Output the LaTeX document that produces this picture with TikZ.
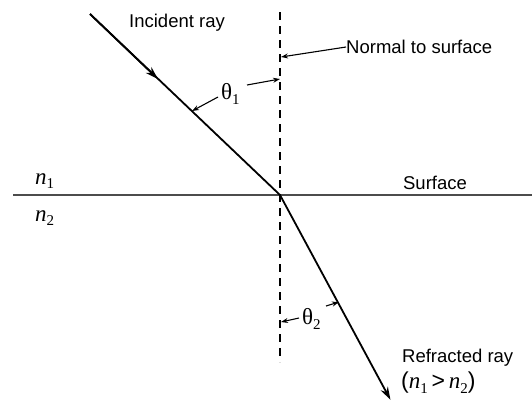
\documentclass[tikz,border=0pt]{standalone}
\usepackage{fontspec}
\setmainfont{Liberation Sans}
\newfontfamily\serf{Liberation Serif}
\usetikzlibrary{arrows.meta}
\newcommand{\subx}[1]{\raisebox{-4.5pt}{\fontsize{15}{15}\selectfont\serf #1}}
\newcommand{\nsym}{{\serf\itshape n}}
\newcommand{\thsym}{{\serf θ}}
\begin{document}
\begin{tikzpicture}[x=1pt,y=-1pt,
  ray/.style={line width=1.8pt,black},
  surf/.style={line width=1.8pt,black!70},
  normalline/.style={line width=1.1pt,dash pattern=on 8pt off 6pt},
  lab/.style={inner sep=0pt,font=\fontsize{18.5}{22}\selectfont},
  mathlab/.style={inner sep=0pt,font=\fontsize{23}{26}\selectfont},
  pointer/.style={line width=1.1pt,-{Stealth[length=7pt,width=5pt]}},
  bigtip/.style={-{Stealth[length=13pt,width=8pt]}}]
\useasboundingbox (0,0) rectangle (532,400);
% key points
\coordinate (O) at (280,195);
\coordinate (A) at (90,14);
\coordinate (M) at (158,79);
\coordinate (B) at (390,399);
\coordinate (NT) at (280,12);
\coordinate (NB) at (280,362);
\coordinate (S1) at (13,195);
\coordinate (S2) at (532,195);
% surface and normal
\draw[surf] (S1) -- (S2);
\draw[normalline] (NT) -- (NB);
% rays
\draw[ray] (A) -- (O);
\draw[ray,bigtip] (A) -- (M);
\draw[ray,bigtip,shorten >=-1pt] (O) -- (B);
% labels
\node[lab] (inc) at (177,23) {Incident ray};
\node[lab,anchor=west] (nrm) at (346,47) {Normal to surface};
\node[lab] (surftxt) at (435,183) {Surface};
\node[mathlab,anchor=west] (n1) at (35,181) {\nsym\subx{1}};
\node[mathlab,anchor=west] (n2) at (35,218) {\nsym\subx{2}};
\node[mathlab,anchor=west] (th1) at (221,94) {\thsym\subx{1}};
\node[mathlab,anchor=west] (th2) at (302,319) {\thsym\subx{2}};
\node[lab,anchor=west] (refr) at (402,358) {Refracted ray};
\node[mathlab,anchor=west] (cond) at (401,383) {(\nsym\subx{1}\,>\,\nsym\subx{2})};
% pointer arrows
\coordinate (nrmhit) at (281,57);
\coordinate (t1a) at (218,97);
\coordinate (t1ahit) at (192,111);
\coordinate (t1b) at (247,85);
\coordinate (t1bhit) at (280,79);
\coordinate (t2a) at (299,318);
\coordinate (t2ahit) at (281,322);
\coordinate (t2b) at (326,306);
\coordinate (t2bhit) at (339,302);
\draw[pointer] (nrm.west) -- (nrmhit);
\draw[pointer] (t1a) -- (t1ahit);
\draw[pointer] (t1b) -- (t1bhit);
\draw[pointer] (t2a) -- (t2ahit);
\draw[pointer] (t2b) -- (t2bhit);
\end{tikzpicture}
\end{document}
